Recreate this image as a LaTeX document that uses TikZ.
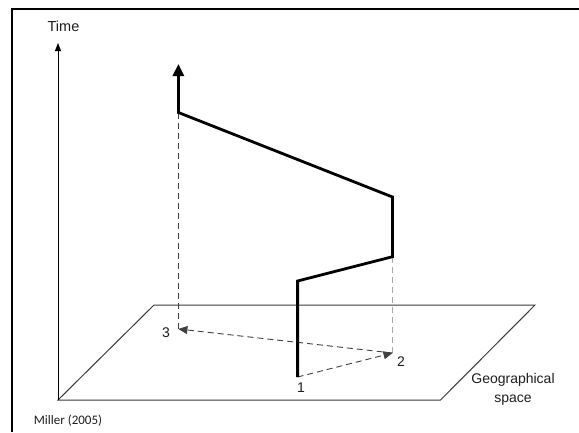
\documentclass[tikz,border=0pt]{standalone}
\usepackage{fontspec}
\setmainfont{Liberation Sans}
\newfontfamily\srcfont{Carlito}
\usetikzlibrary{arrows.meta}
\usepackage{xcolor}
\definecolor{stPlane}{HTML}{3A3A3A}
\definecolor{stDash}{HTML}{404040}
\definecolor{stLight}{HTML}{A8A8A8}
\definecolor{stText}{HTML}{1E1E1E}

\begin{document}
\begin{tikzpicture}[x=1pt, y=-1pt,
  axis/.style={-{Triangle[width=6pt, length=8pt]}, line width=0.9pt, black},
  plane/.style={draw=stPlane, line width=1pt},
  track/.style={-{Triangle[width=11pt, length=12pt]}, line width=2.8pt, black, line join=miter},
  proj/.style={dash pattern=on 6pt off 4pt, line width=0.9pt},
  move/.style={proj, stDash, -{Triangle[width=8pt, length=9pt]}},
  lbl/.style={font=\fontsize{14}{19}\selectfont, text=stText, inner sep=0pt, align=center}]
\useasboundingbox (0,0) rectangle (579,432);
\fill[white] (0,0) rectangle (579,432);
\draw[line width=2.5pt] (12,432) -- (12,9) -- (579,9);

% axes and plane
\coordinate (o) at (58,400);
\coordinate (t) at (58,43);
\coordinate (q1) at (440.5,400);
\coordinate (q2) at (535,305);
\coordinate (q3) at (154,305);
\draw[plane] (o) -- (q1) -- (q2) -- (q3) -- cycle;
\draw[axis] (o) -- (t);

% locations on the plane and the space-time path
\coordinate (s1) at (297.6,377);
\coordinate (s2) at (392.5,353);
\coordinate (s3) at (178.4,329);
\coordinate (a) at (297.6,281);
\coordinate (b) at (392.5,256.7);
\coordinate (c) at (392.5,197);
\coordinate (d) at (178.4,112.5);
\coordinate (e) at (178.4,64);
\draw[proj, stLight] (b) -- (s2);
\draw[proj, stDash] (d) -- (s3);
\draw[move] (s1) -- (s2);
\draw[move] (s2) -- (s3);
\draw[track] (s1) -- (a) -- (b) -- (c) -- (d) -- (e);

\node[lbl] (n1) at (301,388) {1};
\node[lbl] (n2) at (401,362) {2};
\node[lbl] (n3) at (166,333) {3};
\node[lbl, font=\fontsize{14.5}{19}\selectfont] (time) at (63.5,26) {Time};
\node[lbl] (geo) at (513,389.5) {Geographical\\space};
\node[font=\srcfont\fontsize{13}{15}\selectfont, text=stText, inner sep=0pt] (src) at (68,420.5) {Miller (2005)};
\end{tikzpicture}
\end{document}
